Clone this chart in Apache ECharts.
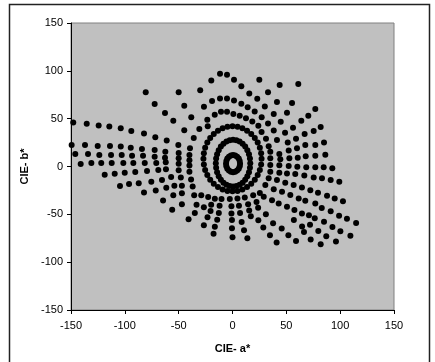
<!DOCTYPE html>
<html>
<head>
<meta charset="utf-8">
<script src="https://cdn.jsdelivr.net/npm/echarts@6/dist/echarts.min.js"></script>
<style>
  html, body { margin: 0; padding: 0; background: #fff; }
  #chart { width: 435px; height: 362px; }
</style>
</head>
<body>
<div id="chart"></div>
<script>
// axis ticks
const xTicks = [-150, -100, -50, 0, 50, 100, 150]
const yTicks = [-150, -100, -50, 0, 50, 100, 150]

// inner rings (dense, almost continuous)
const ring1 = [
  [7, 3], [6.7, 5.8], [5.8, 8.3], [4.3, 10.3], [2.5, 11.6], [0.5, 12], [-1.5, 11.6], [-3.3, 10.3],
  [-4.8, 8.3], [-5.7, 5.8], [-6, 3], [-5.7, 0.2], [-4.8, -2.3], [-3.3, -4.3], [-1.5, -5.6], [0.5, -6],
  [2.5, -5.6], [4.3, -4.3], [5.8, -2.3], [6.7, 0.2],
]
const ring2 = [
  [16.5, 3.5], [16.2, 8.3], [15.3, 12.9], [13.8, 17.1], [11.8, 20.8], [9.4, 23.9], [6.6, 26.1], [3.6, 27.5],
  [0.5, 28], [-2.6, 27.5], [-5.6, 26.1], [-8.4, 23.9], [-10.8, 20.8], [-12.8, 17.1], [-14.3, 12.9], [-15.2, 8.3],
  [-15.5, 3.5], [-15.2, -1.3], [-14.3, -5.9], [-12.8, -10.1], [-10.8, -13.8], [-8.4, -16.9], [-5.6, -19.1], [-2.6, -20.5],
  [0.5, -21], [3.6, -20.5], [6.6, -19.1], [9.4, -16.9], [11.8, -13.8], [13.8, -10.1], [15.3, -5.9], [16.2, -1.3],
]
const ring3 = [
  [27, 8], [26.6, 13.9], [25.4, 19.6], [23.4, 25], [20.7, 29.9], [17.4, 34], [13.5, 37.4], [9.2, 40], [4.7, 41.5],
  [0, 42], [-4.7, 41.5], [-9.2, 40], [-13.5, 37.4], [-17.4, 34], [-20.7, 29.9], [-23.4, 25], [-25.4, 19.6], [-26.6, 13.9],
  [-27, 8], [-26.6, 2.1], [-25.4, -3.6], [-23.4, -9], [-20.7, -13.9], [-17.4, -18], [-13.5, -21.4], [-9.2, -24], [-4.7, -25.5],
  [0, -26], [4.7, -25.5], [9.2, -24], [13.5, -21.4], [17.4, -18], [20.7, -13.9], [23.4, -9], [25.4, -3.6], [26.6, 2.1],
]

// outer points, by region
const upperPts = [
  [-11.6, 97], [-5.1, 96], [1.4, 90.8], [8.2, 84], [15.6, 76.4], [24.9, 90.8], [-19.7, 90], [-30, 79.6],
  [-50, 77.5], [-80.6, 77.5], [-72.3, 65.3], [-62.7, 55.8], [-55, 47.7], [-44.8, 63.5], [-38.3, 51.6], [-44.8, 38],
  [-30.8, 39.3], [-23, 42], [-26.5, 62.4], [-19, 68.4], [-11.6, 71], [-5.1, 71], [1.4, 69], [8.2, 65.6],
  [14.1, 62], [20.6, 57.5], [27.1, 51.6], [23, 70.8], [30, 62.8], [-23.4, 48.8], [-16.5, 54], [-10.7, 57.2],
  [-5.1, 57.2], [0.8, 55], [6.7, 53], [12.5, 50.5], [18.4, 47], [24, 42.5], [27, 36],
  [43.8, 85.2], [61.1, 86.2], [33, 77.5], [41.3, 67.4], [55.3, 66.3], [76.9, 60], [38.3, 55], [50.6, 56.1],
  [70.4, 53], [33, 44.9], [44.8, 46.7], [63.9, 47.7], [81.9, 41.4], [38.3, 37.6], [48.8, 35.2], [56.2, 40.4],
  [67, 34.1], [75.4, 37.2],
]
const leftPts = [
  [-147.9, 46], [-135.4, 44.6], [-124.3, 42.8], [-114.4, 41.8], [-103.8, 40], [-94, 37.2], [-82.2, 34.4], [-71.7, 30.6],
  [-61.1, 27.1], [-50.3, 22.6], [-39.5, 19], [-36, 29.7],
  [-149.4, 22.6], [-137, 22.6], [-125.2, 21.5], [-113.8, 21.5], [-103.8, 20.8], [-94.5, 19.7], [-84.1, 18.4], [-72.3, 17.3],
  [-62.4, 15.5], [-50, 14], [-40, 12],
  [-146, 13.1], [-134.2, 13.1], [-123.7, 12.1], [-112.8, 12.1], [-102.9, 12.1], [-93.3, 11.3], [-83.1, 11.3], [-72.3, 10.3],
  [-62.7, 9.2], [-50, 8.5], [-40, 6.5],
  [-141, 2.6], [-131.1, 3.7], [-121.9, 3.7], [-112.2, 3.7], [-101.4, 3.7], [-92.1, 3.7], [-81.5, 3.7], [-70.8, 3.7],
  [-62, 4.4], [-50, 3], [-40, 1],
  [-118.7, -8.6], [-109.4, -7.6], [-100.1, -6.5], [-90.3, -5.8], [-79.4, -4.7], [-68.9, -3.7], [-61.8, -2.9], [-50, -4],
  [-40, -5.5],
  [-104.5, -20.5], [-96.1, -18.4], [-87.1, -17.6], [-75.4, -15.9], [-65.5, -14.2], [-57, -11], [-48, -11.5], [-38.5, -13.5],
  [-82.2, -27.1], [-71.3, -25], [-61.5, -22.2], [-54, -20], [-47, -20], [-37, -21],
  [-64.5, -35.5], [-55, -30], [-47, -28], [-35.6, -30],
  [-56, -45.1], [-47, -39.5], [-33.4, -40], [-35, -48.6], [-40.8, -55.2],
]
const rightPts = [
  [31.1, 28.9], [41.3, 27.8], [51.3, 25], [59, 28.9], [67.6, 22.6], [76.9, 22.6], [85, 25],
  [33.6, 21.2], [43.5, 13.1], [52.2, 16.6], [59.9, 19.1], [35.1, 15.5], [68, 10.7], [76.9, 11.3], [86.2, 12.4],
  [35.1, 8.6], [44.4, 7.6], [52.8, 8.6], [60.6, 9.2],
  [35.1, 1.6], [43.5, 1.2], [52.2, 0.5], [60.2, -0.2], [68.5, -0.9], [76.9, -0.9], [84.7, -0.9], [92.7, -1.9],
  [35.1, -5.4], [43.5, -6.5], [50.6, -7.2], [58.3, -7.9], [66.7, -9.3], [75.4, -11.4], [83.1, -12.4], [91.2, -14.2], [99.2, -15.9],
  [33.6, -12.4], [41.3, -14.2], [49, -17], [56.8, -19.4], [64.5, -21.9], [72.3, -24.7], [79.4, -27.5], [87.8, -30.6],
  [94.9, -33.4], [102.6, -36.2],
  [30.5, -19.4], [38.3, -23.9], [46, -26.4], [53.7, -29.9], [61.5, -33.4], [67.6, -35.9], [76.9, -38.6], [82.9, -43.4],
  [91.2, -46.9], [99, -51.4], [106.3, -54.5], [114.8, -59],
  [29, -31.7], [36.7, -35.2], [42.9, -38.6], [50.6, -42.2], [57.5, -45.5], [64.5, -49], [71, -51], [76.4, -54.2],
  [85, -57.7], [92.8, -63.3], [100.2, -67.8], [109.5, -72.4],
]
const lowerPts = [
  [25.4, -27.6], [19.2, -30], [11.4, -32.5], [4.6, -33.5], [-2.5, -34], [-10.2, -34], [-16.4, -33.6], [-22.6, -31.8], [-29, -30],
  [-26.6, -42.7], [-19.8, -40], [-12, -41], [-1, -41.5], [6, -41], [14.5, -39.5], [22.3, -37],
  [-20.4, -46.5], [-12.7, -48.5], [-1, -49], [7, -48.5], [15.5, -46], [23.8, -43],
  [-14.2, -55.6], [-16.4, -63], [-17.6, -70.3], [-23.2, -53.1], [-26.6, -61.5],
  [-0.5, -56], [-0.5, -64.5], [0, -74], [8.5, -57.9], [10.7, -66.6], [13.8, -75],
  [17, -52], [24, -56.1], [28.6, -63.8], [34.8, -71.9], [41, -79.5],
  [31, -50], [37.7, -59.4], [45.7, -64.9], [51.9, -71.9], [59, -77.8],
  [57, -56], [66.4, -68.4], [72.6, -76.4], [64.6, -62.6], [72, -61],
  [79.7, -67.3], [87.1, -72.9], [96.1, -78.5], [81.9, -81.3],
]

const font = 'Liberation Sans, Arial, sans-serif'
const chart = echarts.init(document.getElementById('chart'))

const axisCommon = {
  type: 'value',
  min: -150,
  max: 150,
  interval: 50,
  nameLocation: 'middle',
  nameTextStyle: { fontFamily: font, fontSize: 11, fontWeight: 'bold', color: '#000' },
  axisLine: { onZero: false, lineStyle: { color: '#000', width: 1 } },
  axisTick: { length: 4, lineStyle: { color: '#000' } },
  splitLine: { show: false },
}

chart.setOption({
  animation: false,
  backgroundColor: '#fff',
  graphic: [{
    type: 'rect',
    silent: true,
    shape: { x: 9.5, y: 4.5, width: 420, height: 370 },
    style: { fill: 'none', stroke: '#222', lineWidth: 1.5 },
  }],
  grid: {
    left: 71, top: 23, width: 323, height: 287,
    show: true, backgroundColor: '#C0C0C0', borderColor: '#808080', borderWidth: 1,
  },
  xAxis: {
    ...axisCommon,
    name: 'CIE- a*',
    nameGap: 33,
    axisLabel: {
      fontFamily: font, fontSize: 11, color: '#000', margin: 10,
      formatter: v => (xTicks.includes(v) ? String(v) : ''),
    },
  },
  yAxis: {
    ...axisCommon,
    name: 'CIE- b*',
    nameRotate: 90,
    nameGap: 37,
    axisLabel: {
      fontFamily: font, fontSize: 11, color: '#000', margin: 8,
      formatter: v => (yTicks.includes(v) ? String(v) : ''),
    },
  },
  series: [{
    type: 'scatter',
    symbolSize: 6,
    itemStyle: { color: '#000', opacity: 1 },
    data: [...ring1, ...ring2, ...ring3, ...upperPts, ...leftPts, ...rightPts, ...lowerPts],
  }],
})
</script>
</body>
</html>
